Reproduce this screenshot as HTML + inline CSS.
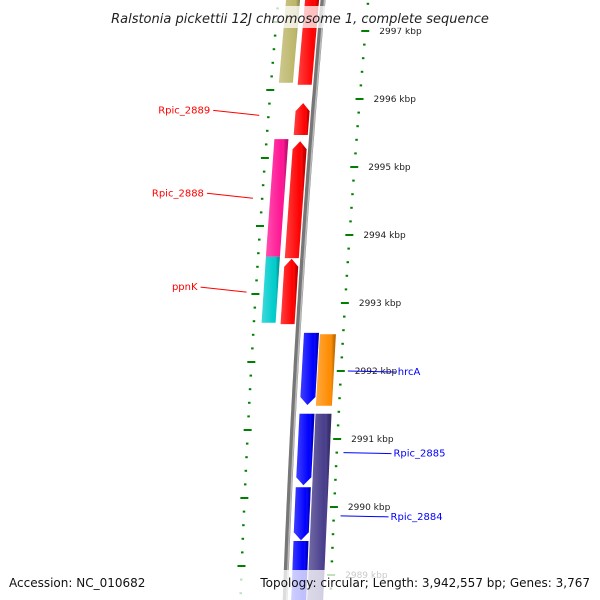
<!DOCTYPE html>
<html><head><meta charset="utf-8"><style>
body{margin:0;background:#fff;overflow:hidden}
svg{display:block;font-family:"DejaVu Sans","Liberation Sans",sans-serif}
</style></head><body>
<svg id="map" width="600" height="600" viewBox="0 0 600 600">
<defs>
<linearGradient id="shade" x1="0" x2="1" y1="0" y2="0">
<stop offset="0" stop-color="#fff" stop-opacity="0.25"/>
<stop offset="0.7" stop-color="#fff" stop-opacity="0"/>
<stop offset="0.85" stop-color="#000" stop-opacity="0.15"/>
<stop offset="1" stop-color="#000" stop-opacity="0.3"/>
</linearGradient>
</defs>
<g id="layer"></g>
<rect x="95" y="6" width="410" height="22" fill="#fff" fill-opacity="0.75"/>
<text x="300" y="23" text-anchor="middle" font-size="13" font-style="italic" fill="#222">Ralstonia pickettii 12J chromosome 1, complete sequence</text>
<rect x="0" y="570" width="600" height="30" fill="#fff" fill-opacity="0.75"/>
<text x="9" y="587" font-size="12" fill="#111">Accession: NC_010682</text>
<text x="590" y="587" font-size="12" fill="#111" text-anchor="end">Topology: circular; Length: 3,942,557 bp; Genes: 3,767</text>
</svg>
<script>
// data
const kbpTicks = [2997, 2996, 2995, 2994, 2993, 2992, 2991, 2990, 2989];
const featStart = [2996.24, 2996.21, 2995.47, 2993.68, 2993.66, 2992.71, 2992.69, 2991.5, 2991.49, 2990.32, 2988.6, 2989.51, 2988.5];
const featEnd   = [2997.6, 2997.6, 2995.94, 2995.41, 2995.38, 2993.68, 2993.65, 2992.56, 2992.54, 2991.37, 2991.37, 2990.29, 2989.5];
const featTrack = ['L', 'R', 'R', 'L', 'R', 'L', 'R', 'B', 'P', 'B', 'P', 'B', 'B'];
const featColor = ['#bdb76b', '#ff0000', '#ff0000', '#ff1493', '#ff0000', '#00cccc', '#ff0000', '#0000ff', '#ff8c00', '#0000ff', '#483d8b', '#0000ff', '#0000ff'];
const featDir = [0, 0, 1, 0, 1, 0, 1, -1, 0, -1, 0, -1, -1];
const labelNames = ['Rpic_2889', 'Rpic_2888', 'ppnK', 'hrcA', 'Rpic_2885', 'Rpic_2884'];
const labelKbp = [2995.76, 2994.54, 2993.16, 2992.0, 2990.8, 2989.87];
const labelSide = ['L', 'L', 'L', 'R', 'R', 'R'];

const NS = 'http://www.w3.org/2000/svg';
const layer = document.getElementById('layer');
function yOf(k){ return 99 + (2996 - k) * 68; }
function g(y){ return 323 - 0.09 * y + 0.000045 * y * y; }
const trackOff = {L: [-37, -23], R: [-18, -4], B: [6, 21], P: [22, 38]};
function mk(tag, attrs){ const e = document.createElementNS(NS, tag); for (const k in attrs) e.setAttribute(k, attrs[k]); layer.appendChild(e); return e; }

// backbone
let bb = '';
for (let y = -5; y <= 605; y += 5) bb += (bb ? 'L' : 'M') + g(y).toFixed(1) + ' ' + y;
const b1 = mk('path', {d: bb, stroke: '#777', 'stroke-width': 5, fill: 'none'});


const b2 = mk('path', {d: bb, stroke: '#bbb', 'stroke-width': 1.5, fill: 'none', transform: 'translate(1.5,0)'});



// features
for (let i = 0; i < featStart.length; i++) {
  const ya = yOf(Math.max(featEnd[i], featStart[i])), yb = yOf(Math.min(featEnd[i], featStart[i]));
  const [o1, o2] = trackOff[featTrack[i]];
  const mid = (o1 + o2) / 2, ah = 8;
  let pts = [];
  if (featDir[i] === 1) {
    pts = [[g(ya + ah) + o1, ya + ah], [g(ya) + mid, ya], [g(ya + ah) + o2, ya + ah], [g(yb) + o2, yb], [g(yb) + o1, yb]];
  } else if (featDir[i] === -1) {
    pts = [[g(ya) + o1, ya], [g(ya) + o2, ya], [g(yb - ah) + o2, yb - ah], [g(yb) + mid, yb], [g(yb - ah) + o1, yb - ah]];
  } else {
    pts = [[g(ya) + o1, ya], [g(ya) + o2, ya], [g(yb) + o2, yb], [g(yb) + o1, yb]];
  }
  const p = pts.map(q => q[0].toFixed(1) + ',' + q[1].toFixed(1)).join(' ');
  const f = mk('polygon', {points: p, fill: featColor[i]});
  
  
  const s = mk('polygon', {points: p, fill: 'url(#shade)'});
  
  
}

// ruler ticks (right and left)
for (let n = 0; n <= 50; n++) {
  const k = 2987.8 + n * 0.2;
  const y = yOf(k);
  const major = Math.abs(k - Math.round(k)) < 0.01;
  const xr = g(y) + 45;
  const t = mk('line', {x1: xr - (major ? 4 : 1), x2: xr + (major ? 4 : 1.5), y1: y, y2: y, stroke: '#008000', 'stroke-width': 2});
  
  
  const yl = y - 9;
  const xl = g(yl) - 45;
  const t2 = mk('line', {x1: xl - (major ? 4 : 1), x2: xl + (major ? 4 : 1.5), y1: yl, y2: yl, stroke: '#008000', 'stroke-width': 2});
  
  
}
kbpTicks.forEach(k => {
  const y = yOf(k);
  const t = mk('text', {x: g(y) + 59, y: y + 3, 'font-size': 9, fill: '#222'});
  t.textContent = k + ' kbp';
  
  
});

// gene labels
labelNames.forEach((n, i) => {
  const y = yOf(labelKbp[i]);
  if (labelSide[i] === 'L') {
    const x0 = g(y) - 54;
    const ln = mk('line', {x1: x0, y1: y, x2: x0 - 46, y2: y - 5, stroke: '#ff0000', 'stroke-width': 1});
    
    
    const t = mk('text', {x: x0 - 49, y: y - 2, 'font-size': 10, fill: '#ff0000', 'text-anchor': 'end'});
    t.textContent = n;
    
    
  } else {
    const x0 = g(y) + 52;
    const ln = mk('line', {x1: x0, y1: y, x2: x0 + 48, y2: y + 1, stroke: '#0000ff', 'stroke-width': 1});
    
    
    const t = mk('text', {x: x0 + 50, y: y + 4, 'font-size': 10, fill: '#0000ff'});
    t.textContent = n;
    
    
  }
});
</script>
</body></html>
